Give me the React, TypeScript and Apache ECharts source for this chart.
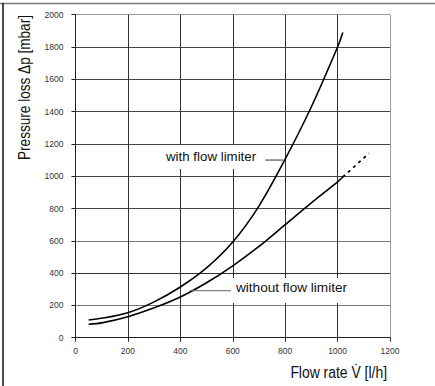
import React, { useEffect, useRef } from "react";
import * as echarts from "echarts";

const flowRates = [50, 100, 200, 300, 400, 500, 600, 700, 800, 900, 1000, 1020];
const withLimiter = [110, 120, 155, 222, 314, 432, 592, 815, 1105, 1430, 1800, 1890];
const withoutLimiter = [83, 92, 130, 185, 252, 340, 445, 565, 700, 835, 965, 995];
const extrapolatedX = [1020, 1120];
const extrapolatedY = [995, 1142];
const withLeaderX = [724, 793];
const withLeaderY = [1100, 1100];
const withoutLeaderX = [437, 597];
const withoutLeaderY = [291, 291];
const xTicks = { min: 0, max: 1200, interval: 200 };
const yTicks = { min: 0, max: 2000, interval: 200 };

const sans = "'Liberation Sans', Arial, sans-serif";

export default function App() {
  const ref = useRef<HTMLDivElement>(null);
  useEffect(() => {
    document.body.style.margin = "0";
    const chart = echarts.init(ref.current!, null, { renderer: "svg" });
    const zip = (xs: number[], ys: number[]) => xs.map((x, i) => [x, ys[i]]);
    const xColors = ["#222", "#333", "#333", "#333", "#333", "#333", "#999"];
    const yColors = ["#222", "#777", "#333", "#777", "#444", "#444", "#444", "#444", "#444", "#444", "#999"];
    const plain = (v: number) => String(v);
    chart.setOption({
      animation: false,
      backgroundColor: "#fff",
      grid: { left: 75.5, right: 45, top: 14.7, bottom: 48.3 },
      xAxis: {
        type: "value",
        ...xTicks,
        axisLine: { show: true, lineStyle: { color: "#222", width: 1 } },
        axisTick: { show: true, length: 4, lineStyle: { color: "#222" } },
        axisLabel: { margin: 9, fontSize: 8.5, color: "#333", fontFamily: sans, formatter: plain },
        splitLine: { show: true, lineStyle: { color: xColors, width: 1 } },
      },
      yAxis: {
        type: "value",
        ...yTicks,
        axisLine: { show: true, lineStyle: { color: "#222", width: 1 } },
        axisTick: { show: true, length: 4, lineStyle: { color: "#222" } },
        axisLabel: { margin: 12, fontSize: 8.5, color: "#333", fontFamily: sans, formatter: plain },
        splitLine: { show: true, lineStyle: { color: yColors, width: 1 } },
      },
      series: [
        {
          type: "line",
          data: zip(flowRates, withLimiter),
          smooth: 0.3,
          showSymbol: false,
          lineStyle: { color: "#000", width: 1.6 },
        },
        {
          type: "line",
          data: zip(flowRates, withoutLimiter),
          smooth: 0.3,
          showSymbol: false,
          lineStyle: { color: "#000", width: 1.6 },
        },
        {
          type: "line",
          data: zip(extrapolatedX, extrapolatedY),
          showSymbol: false,
          lineStyle: { color: "#000", width: 1.8, type: [3, 4] },
        },
        {
          type: "line",
          data: zip(withLeaderX, withLeaderY),
          showSymbol: false,
          lineStyle: { color: "#333", width: 1 },
        },
        {
          type: "line",
          data: zip(withoutLeaderX, withoutLeaderY),
          showSymbol: false,
          lineStyle: { color: "#666", width: 1 },
        },
      ],
      graphic: [
        { type: "line", z: 100, shape: { x1: 0, y1: 3.5, x2: 435, y2: 3.5 }, style: { stroke: "#777", lineWidth: 1.5 } },
        { type: "line", z: 100, shape: { x1: 3, y1: 3, x2: 3, y2: 386 }, style: { stroke: "#111", lineWidth: 1.5 } },
        {
          type: "text",
          z: 100,
          x: 160,
          y: 145,
          style: {
            text: "with flow limiter",
            font: `13.3px ${sans}`,
            fill: "#111",
            backgroundColor: "#fff",
            padding: [5, 4, 6, 6],
          },
        },
        {
          type: "text",
          z: 100,
          x: 231,
          y: 278,
          style: {
            text: "without flow limiter",
            font: `13.6px ${sans}`,
            fill: "#111",
            backgroundColor: "#fff",
            padding: [2, 4, 9, 5],
          },
        },
        {
          type: "text",
          z: 100,
          x: 25,
          y: 87.5,
          rotation: Math.PI / 2,
          scaleX: 0.85,
          style: {
            text: "Pressure loss \u0394p [mbar]",
            font: `16px ${sans}`,
            fill: "#111",
            align: "center",
            verticalAlign: "middle",
          },
        },
        {
          type: "text",
          z: 100,
          x: 387,
          y: 372,
          scaleX: 0.87,
          style: {
            text: "Flow rate V\u0307 [l/h]",
            font: `16px ${sans}`,
            fill: "#111",
            align: "right",
            verticalAlign: "middle",
          },
        },
      ],
    });
    return () => chart.dispose();
  }, []);
  return <div ref={ref} style={{ width: 435, height: 386 }} />;
}
